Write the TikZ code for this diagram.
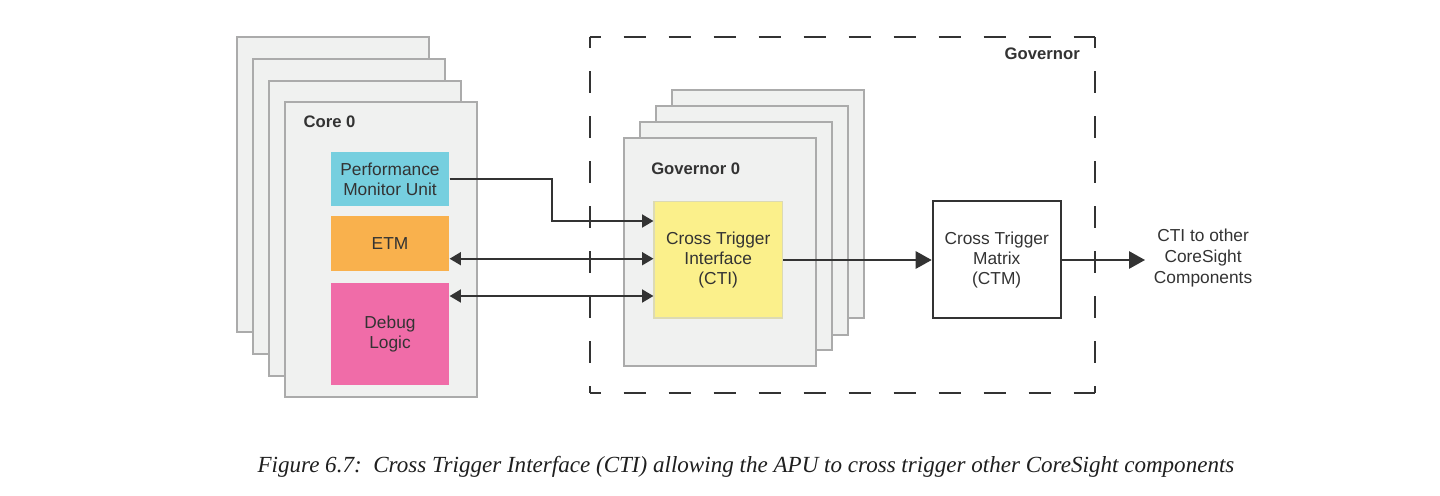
\documentclass[tikz,border=0pt]{standalone}
\usepackage{fontspec}
\setmainfont{Liberation Sans}
\newfontfamily\capfont{Liberation Serif}
\usetikzlibrary{arrows.meta}
\definecolor{txt}{HTML}{333333}
\definecolor{cardfill}{HTML}{F0F1F0}
\definecolor{cardline}{HTML}{ABABAB}
\definecolor{pmucol}{HTML}{76CFDF}
\definecolor{etmcol}{HTML}{F9B14D}
\definecolor{dbgcol}{HTML}{F06CA8}
\definecolor{cticol}{HTML}{FBF08B}
\definecolor{ctiline}{HTML}{DCDAB4}
\begin{document}
\begin{tikzpicture}[x=0.75pt,y=-0.75pt,
  card/.style={draw=cardline, fill=cardfill, line width=1.5pt, inner sep=0pt,
    minimum width=144pt, minimum height=221.25pt},
  gcard/.style={card, minimum height=171.4pt},
  unit/.style={inner sep=0pt, align=center, text=txt,
    font=\fontsize{13}{15}\selectfont, minimum width=89pt},
  lbl/.style={inner sep=0pt, text=txt, font=\bfseries\fontsize{12.5}{15}\selectfont},
  govbox/.style={draw=none, minimum width=378.75pt, minimum height=266.25pt, inner sep=0pt},
  dashside/.style={draw=txt, line width=1.5pt, dash pattern=on 16.5pt off 17.25pt,
    dash phase=8.25pt},
  conn/.style={draw=txt, line width=1.4pt},
  sm/.tip={Triangle[length=8.5pt,width=9.75pt]},
  bg/.tip={Triangle[length=12pt,width=13pt]}
]
\useasboundingbox (0,0) rectangle (1440,496);
\fill[white] (0,0) rectangle (1440,496);

% Governor dashed box
\node[govbox] (gov) at (842.5,215.2) {};
\draw[dashside] (gov.north west) -- (gov.north east);
\draw[dashside] (gov.south west) -- (gov.south east);
\draw[dashside] (gov.north west) -- (gov.south west);
\draw[dashside] (gov.north east) -- (gov.south east);
\node[lbl, anchor=east] (govlbl) at (1080,54) {Governor};

% Core cards
\node[card] (c3) at (333.3,184.7) {};
\node[card] (c2) at (349.3,206.4) {};
\node[card] (c1) at (365.3,228.1) {};
\node[card] (c0) at (381.3,249.8) {};
\node[lbl, anchor=west] (corelbl) at (303.3,121.7) {Core 0};

\node[unit, fill=pmucol, minimum height=40.8pt] (pmu) at (390,179) {Performance\\Monitor Unit};
\node[unit, fill=etmcol, minimum height=40.8pt] (etm) at (390,243.5) {ETM};
\node[unit, fill=dbgcol, minimum height=76.7pt] (dbg) at (390,333.9) {Debug\\Logic};

% Governor cards
\node[gcard] (g3) at (767.7,204.2) {};
\node[gcard] (g2) at (751.7,220.5) {};
\node[gcard] (g1) at (735.7,236.2) {};
\node[gcard] (g0) at (719.7,251.9) {};
\node[lbl, anchor=west] (g0lbl) at (651,168.3) {Governor 0};

\node[unit, fill=cticol, draw=ctiline, line width=1pt, minimum width=96.2pt, minimum height=87.5pt] (cti) at (718.2,259.7) {Cross Trigger\\Interface\\(CTI)};
\node[unit, fill=white, draw=txt, line width=1.5pt, minimum width=96pt, minimum height=88pt] (ctm) at (996.7,259.7) {Cross Trigger\\Matrix\\(CTM)};

\node[unit, minimum width=0pt, inner xsep=6.5pt, anchor=west,
  font=\fontsize{13}{15.75}\selectfont] (out) at (1145,258.3) {CTI to other\\CoreSight\\Components};

% Connectors
\coordinate (bend) at (551.7,221);
\coordinate (ya) at (0,258.7);
\coordinate (yb) at (0,296);
\coordinate (yc) at (0,260);
\draw[conn, -sm] (pmu.east) -| (bend) -- (cti.west |- bend);
\draw[conn, sm-sm] (etm.east |- ya) -- (cti.west |- ya);
\draw[conn, sm-sm] (dbg.east |- yb) -- (cti.west |- yb);
\draw[conn, -bg] (cti.east |- yc) -- (ctm.west |- yc);
\draw[conn, -bg] (ctm.east |- yc) -- (out.west |- yc);

% Caption
\node[inner sep=0pt, anchor=base, text=black!88,
  font=\capfont\itshape\fontsize{17.3}{20}\selectfont] (cap) at (746,472)
  {Figure 6.7:\enspace Cross Trigger Interface (CTI) allowing the APU to cross trigger other CoreSight components};
\end{tikzpicture}
\end{document}
